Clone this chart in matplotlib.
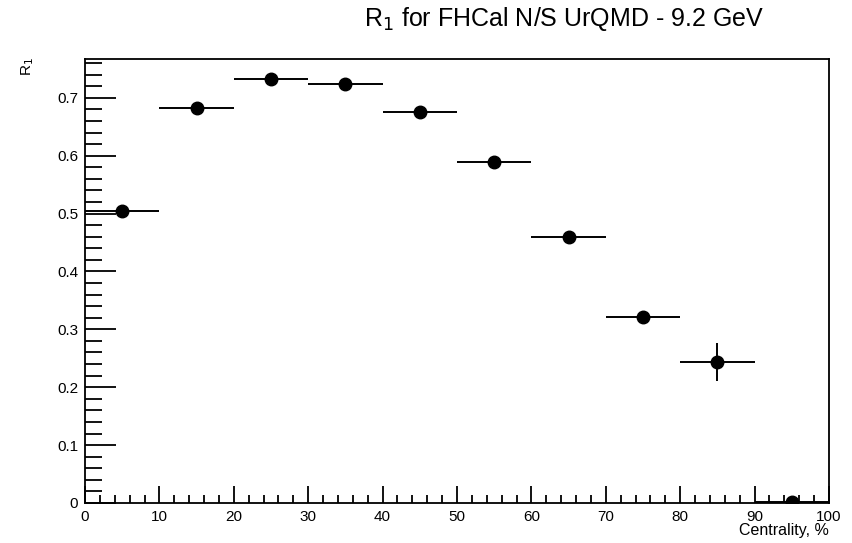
import matplotlib

matplotlib.use("Agg")
import matplotlib.pyplot as plt
from matplotlib.ticker import MultipleLocator

# R1 resolution vs centrality, 10% bins
centrality = [5, 15, 25, 35, 45, 55, 65, 75, 85, 95]
bin_half_width = [5, 5, 5, 5, 5, 5, 5, 5, 5, 5]
r1 = [0.505, 0.683, 0.733, 0.724, 0.676, 0.589, 0.460, 0.321, 0.244, 0.002]
r1_err = [0.004, 0.004, 0.004, 0.004, 0.005, 0.005, 0.006, 0.008, 0.033, 0.004]

plt.rcParams["font.family"] = ["Liberation Sans", "DejaVu Sans"]

fig = plt.figure(figsize=(8.52, 5.43), dpi=100)
ax = fig.add_axes([85 / 852, 1 - 503 / 543, 744 / 852, 444 / 543])

ax.errorbar(
    centrality, r1, xerr=bin_half_width, yerr=r1_err,
    fmt="o", color="black", markersize=9, elinewidth=1.4, capsize=0,
)

ax.set_xlim(0, 100)
ax.set_ylim(0, 0.767)
ax.xaxis.set_major_locator(MultipleLocator(10))
ax.xaxis.set_minor_locator(MultipleLocator(2))
ax.yaxis.set_major_locator(MultipleLocator(0.1))
ax.yaxis.set_minor_locator(MultipleLocator(0.02))
ax.yaxis.set_major_formatter(plt.FuncFormatter(lambda v, _: "0" if abs(v) < 1e-9 else f"{v:.1f}"))

ax.tick_params(which="both", direction="in", top=False, right=False, width=1.3, labelsize=11)
ax.tick_params(which="major", axis="x", length=12, pad=5)
ax.tick_params(which="minor", axis="x", length=6)
ax.tick_params(which="major", axis="y", length=22, pad=5)
ax.tick_params(which="minor", axis="y", length=12)
for spine in ax.spines.values():
    spine.set_linewidth(1.3)

fig.text(28 / 852, 1 - 67 / 543, "R$_1$", rotation=90, ha="center", va="center", fontsize=11)
fig.text(829 / 852, 1 - 531 / 543, "Centrality, %", ha="right", va="center", fontsize=11.5)
fig.text(564 / 852, 1 - 19 / 543, "R$_1$ for FHCal N/S UrQMD - 9.2 GeV", ha="center", va="center", fontsize=18)

fig.savefig("out.png", dpi=100)
